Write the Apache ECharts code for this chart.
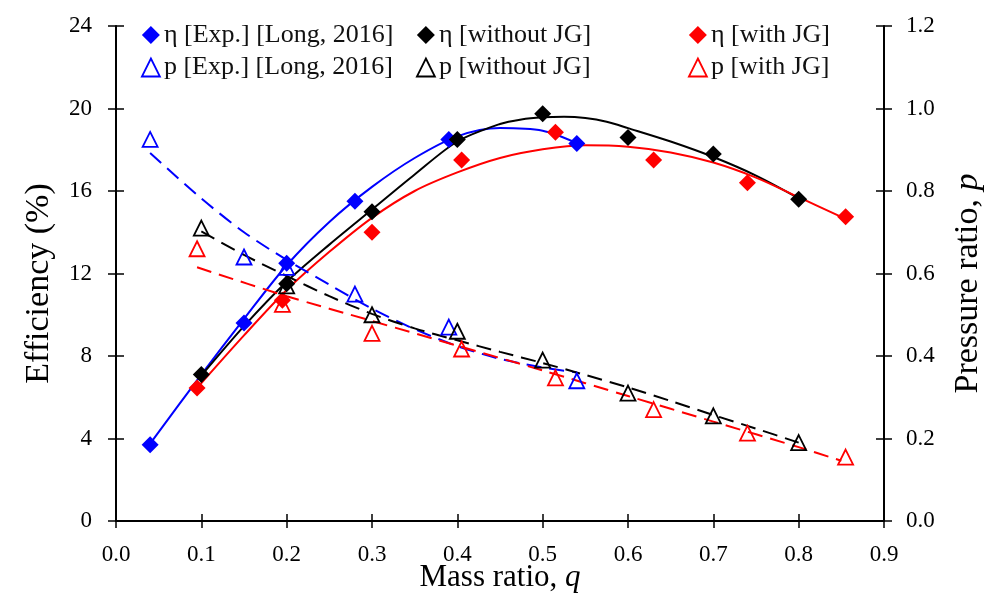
<!DOCTYPE html>
<html><head><meta charset="utf-8">
<script src="https://cdn.jsdelivr.net/npm/echarts@6/dist/echarts.min.js"></script>
<style>html,body{margin:0;padding:0;background:#fff}#c{width:992px;height:594px}</style>
</head><body><div id="c"></div>
<script>
// ---- data ----
const xTicks = [0, 0.1, 0.2, 0.3, 0.4, 0.5, 0.6, 0.7, 0.8, 0.9];
const etaTicks = [0, 4, 8, 12, 16, 20, 24];
const pTicks = [0, 0.2, 0.4, 0.6, 0.8, 1.0, 1.2];

const qExp = [0.04, 0.15, 0.2, 0.28, 0.39, 0.54];
const etaExp = [3.7, 9.6, 12.5, 15.5, 18.5, 18.3];
const pExp = [0.925, 0.64, 0.615, 0.55, 0.47, 0.34];

const qNo = [0.1, 0.2, 0.3, 0.4, 0.5, 0.6, 0.7, 0.8];
const etaNo = [7.1, 11.5, 15.0, 18.5, 19.75, 18.6, 17.8, 15.6];
const pNo = [0.71, 0.57, 0.5, 0.46, 0.39, 0.31, 0.255, 0.19];

const qWith = [0.095, 0.195, 0.3, 0.405, 0.515, 0.63, 0.74, 0.855];
const etaWith = [6.45, 10.7, 14.0, 17.5, 18.85, 17.5, 16.4, 14.75];
const pWith = [0.66, 0.525, 0.455, 0.417, 0.347, 0.27, 0.213, 0.155];

// trend lines
const fitEtaExpQ = [0.04, 0.1, 0.15, 0.2, 0.25, 0.3, 0.35, 0.4, 0.45, 0.5, 0.54];
const fitEtaExpV = [3.75, 7.1, 9.8, 12.4, 14.5, 16.2, 17.6, 18.65, 19.05, 18.92, 18.32];
const fitEtaNoQ = [0.1, 0.15, 0.2, 0.25, 0.3, 0.35, 0.4, 0.45, 0.475, 0.5, 0.525, 0.55, 0.575, 0.6, 0.65, 0.7, 0.75, 0.8];
const fitEtaNoV = [7.05, 9.45, 11.6, 13.4, 15.1, 16.8, 18.4, 19.25, 19.47, 19.57, 19.6, 19.54, 19.36, 19.05, 18.4, 17.65, 16.75, 15.65];
const fitEtaWithQ = [0.095, 0.15, 0.2, 0.25, 0.3, 0.35, 0.4, 0.45, 0.5, 0.55, 0.6, 0.65, 0.7, 0.75, 0.8, 0.855];
const fitEtaWithV = [6.45, 9.0, 11.2, 13.05, 14.7, 16.0, 16.9, 17.6, 18.02, 18.22, 18.15, 17.87, 17.38, 16.65, 15.7, 14.65];

const fitPExpQ = [0.04, 0.1, 0.15, 0.2, 0.25, 0.3, 0.35, 0.4, 0.45, 0.5, 0.54];
const fitPExpV = [0.892, 0.782, 0.70, 0.633, 0.573, 0.515, 0.465, 0.424, 0.393, 0.372, 0.36];
const fitPNoQ = [0.1, 0.15, 0.2, 0.25, 0.3, 0.35, 0.4, 0.45, 0.5, 0.55, 0.6, 0.65, 0.7, 0.75, 0.8];
const fitPNoV = [0.702, 0.645, 0.594, 0.545, 0.502, 0.467, 0.438, 0.41, 0.383, 0.354, 0.324, 0.291, 0.257, 0.224, 0.19];
const fitPWithQ = [0.095, 0.2, 0.3, 0.4, 0.5, 0.6, 0.7, 0.8, 0.85];
const fitPWithV = [0.615, 0.545, 0.485, 0.425, 0.365, 0.303, 0.241, 0.179, 0.146];

const names = {
  etaExp: 'η [Exp.] [Long, 2016]', etaNo: 'η [without JG]', etaWith: 'η [with JG]',
  pExp: 'p [Exp.] [Long, 2016]', pNo: 'p [without JG]', pWith: 'p [with JG]'
};

// ---- build ----
const FONT = 'Liberation Serif';
const BLUE = '#0000ff', BLACK = '#000000', RED = '#ff0000';
const zip = (a, b) => a.map((v, i) => [v, b[i]]);

function fitLine(q, v, color, yIdx, dashed) {
  return {
    type: 'line', yAxisIndex: yIdx, data: zip(q, v), smooth: 0.3, showSymbol: false, symbol: 'none',
    silent: true, z: 2,
    lineStyle: { color: color, width: 2, type: dashed ? [15, 8] : 'solid', opacity: 1 }
  };
}
function diamonds(name, q, v, color) {
  return { name, type: 'scatter', yAxisIndex: 0, data: zip(q, v), symbol: 'diamond', symbolSize: 17, z: 5,
    itemStyle: { color: color, opacity: 1 } };
}
function triangles(name, q, v, color) {
  return { name, type: 'scatter', yAxisIndex: 2, data: zip(q, v), symbol: 'triangle', symbolSize: 15, z: 5,
    itemStyle: { color: 'rgba(0,0,0,0)', borderColor: color, borderWidth: 1.8, opacity: 1 } };
}

const labelStyle = { fontFamily: FONT, fontSize: 23, color: '#000' };
const lineStyle = { color: '#000', width: 2 };
const tickStyle = { color: '#000', width: 1.5 };

const xBase = { type: 'value', min: xTicks[0], max: xTicks[xTicks.length - 1], interval: 0.1, position: 'bottom', splitLine: { show: false } };
const yLBase = { type: 'value', min: etaTicks[0], max: etaTicks[etaTicks.length - 1], interval: 4, position: 'left', splitLine: { show: false } };
const yRBase = { type: 'value', min: pTicks[0], max: pTicks[pTicks.length - 1], interval: 0.2, position: 'right', splitLine: { show: false } };

function legendCol(left, a, b, color) {
  return {
    left: left, top: 17, orient: 'vertical', itemGap: 6.5, itemWidth: 18, itemHeight: 18,
    textStyle: { fontFamily: FONT, fontSize: 26, color: '#111', lineHeight: 26, padding: [0, 0, 0, -1] },
    data: [
      { name: a, icon: 'diamond', itemStyle: { color: color, opacity: 1 } },
      { name: b, icon: 'triangle', itemStyle: { color: 'rgba(0,0,0,0)', borderColor: color, borderWidth: 1.8 } }
    ]
  };
}

const option = {
  animation: false,
  backgroundColor: '#fff',
  grid: { left: 116, right: 108, top: 26, bottom: 73, containLabel: false, outerBoundsMode: 'none' },
  legend: [
    legendCol(136, names.etaExp, names.pExp, BLUE),
    legendCol(411, names.etaNo, names.pNo, BLACK),
    legendCol(683, names.etaWith, names.pWith, RED)
  ],
  xAxis: [
    Object.assign({}, xBase, {
      axisLine: { show: true, lineStyle: lineStyle },
      axisTick: { show: true, inside: false, length: 7, lineStyle: tickStyle },
      axisLabel: Object.assign({ margin: 22, formatter: v => v.toFixed(1) }, labelStyle),
      name: 'Mass ratio, {i|q}', nameLocation: 'middle', nameGap: 41, nameMoveOverlap: false,
      nameTextStyle: { fontFamily: FONT, fontSize: 31, color: '#000',
        rich: { i: { fontFamily: FONT, fontSize: 31, fontStyle: 'italic', color: '#000' } } }
    }),
    Object.assign({}, xBase, {
      axisLine: { show: false }, axisLabel: { show: false },
      axisTick: { show: true, inside: true, length: 7, lineStyle: tickStyle }
    })
  ],
  yAxis: [
    Object.assign({}, yLBase, {
      axisLine: { show: true, lineStyle: lineStyle },
      axisTick: { show: true, inside: false, length: 8, lineStyle: tickStyle },
      axisLabel: Object.assign({ margin: 24 }, labelStyle),
      name: 'Efficiency (%)', nameLocation: 'middle', nameGap: 60, nameRotate: 90, nameMoveOverlap: false,
      nameTextStyle: { fontFamily: FONT, fontSize: 34, color: '#000', padding: [0, 20, 0, 0] }
    }),
    Object.assign({}, yLBase, {
      axisLine: { show: false }, axisLabel: { show: false },
      axisTick: { show: true, inside: true, length: 8, lineStyle: tickStyle }
    }),
    Object.assign({}, yRBase, {
      axisLine: { show: true, lineStyle: lineStyle },
      axisTick: { show: true, inside: false, length: 8, lineStyle: tickStyle },
      axisLabel: Object.assign({ margin: 22, formatter: v => v.toFixed(1) }, labelStyle),
      name: 'Pressure ratio, {i|p}', nameLocation: 'middle', nameGap: 67, nameRotate: 90, nameMoveOverlap: false,
      nameTextStyle: { fontFamily: FONT, fontSize: 34, color: '#000', padding: [0, 20, 0, 0],
        rich: { i: { fontFamily: FONT, fontSize: 34, fontStyle: 'italic', color: '#000' } } }
    }),
    Object.assign({}, yRBase, {
      axisLine: { show: false }, axisLabel: { show: false },
      axisTick: { show: true, inside: true, length: 8, lineStyle: tickStyle }
    })
  ],
  series: [
    fitLine(fitEtaExpQ, fitEtaExpV, BLUE, 0, false),
    fitLine(fitEtaNoQ, fitEtaNoV, BLACK, 0, false),
    fitLine(fitEtaWithQ, fitEtaWithV, RED, 0, false),
    fitLine(fitPExpQ, fitPExpV, BLUE, 2, true),
    fitLine(fitPNoQ, fitPNoV, BLACK, 2, true),
    fitLine(fitPWithQ, fitPWithV, RED, 2, true),
    diamonds(names.etaExp, qExp, etaExp, BLUE),
    diamonds(names.etaNo, qNo, etaNo, BLACK),
    diamonds(names.etaWith, qWith, etaWith, RED),
    triangles(names.pExp, qExp, pExp, BLUE),
    triangles(names.pNo, qNo, pNo, BLACK),
    triangles(names.pWith, qWith, pWith, RED)
  ]
};
echarts.init(document.getElementById('c'), null, { renderer: 'canvas' }).setOption(option);
</script>
</body></html>
